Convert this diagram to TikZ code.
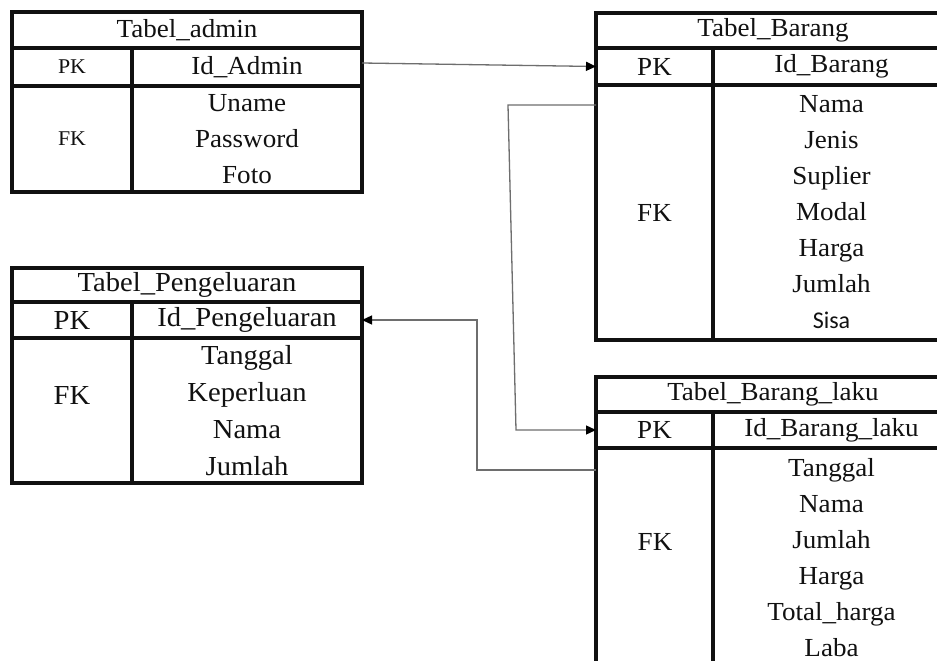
\documentclass[tikz,border=0pt]{standalone}
\usepackage{fontspec}
\setmainfont{Liberation Serif}[FakeStretch=1.04]
\newfontfamily\calfont{Carlito}
\usepackage{tikz}
\usetikzlibrary{arrows.meta,positioning}
\definecolor{ink}{HTML}{111111}
\definecolor{wire}{HTML}{6E6E6E}

\begin{document}
\begin{tikzpicture}[x=1pt,y=-1pt,
  cel/.style={draw=ink,line width=3.5pt,outer sep=0pt,inner sep=0pt,anchor=north west,align=center,text=ink,font=\fontsize{26}{36}\selectfont},
  small/.style={font=\fontsize{21}{36}\selectfont},
  big/.style={font=\fontsize{27.5}{37}\selectfont},
  txt/.style={text=ink,font=\fontsize{26}{36}\selectfont},
  rel/.style={draw=wire,line width=1.3pt,-{Triangle[length=10pt,width=9pt,color=black,fill=black]}}
]
  \fill[white] (0,0) rectangle (937,661);
  \useasboundingbox (0,0) rectangle (937,661);

  \node[cel,minimum width=350pt,minimum height=36pt]        (adm)    at (12,12)  {Tabel\_admin};
  \node[cel,small,minimum width=120pt,minimum height=38pt]  (adm-pk) at (12,48)  {PK};
  \node[cel,minimum width=230pt,minimum height=38pt]        (adm-id) at (132,48) {Id\_Admin};
  \node[cel,small,minimum width=120pt,minimum height=106pt] (adm-fk) at (12,86)  {FK};
  \node[cel,minimum width=230pt,minimum height=106pt]       (adm-f)  at (132,86) {Uname\\Password\\Foto};

  \node[cel,minimum width=354pt,minimum height=35pt]  (bar)    at (596,13) {Tabel\_Barang};
  \node[cel,minimum width=117pt,minimum height=37pt]  (bar-pk) at (596,48) {PK};
  \node[cel,minimum width=237pt,minimum height=37pt]  (bar-id) at (713,48) {Id\_Barang};
  \node[cel,minimum width=117pt,minimum height=255pt] (bar-fk) at (596,85) {FK};
  \node[cel,minimum width=237pt,minimum height=255pt] (bar-f)  at (713,85) {Nama\\Jenis\\Suplier\\Modal\\Harga\\Jumlah\\{\calfont\fontsize{24}{36}\selectfont Sisa}};

  \node[cel,big,minimum width=350pt,minimum height=34pt]  (peng)    at (12,268)  {Tabel\_Pengeluaran};
  \node[cel,big,minimum width=120pt,minimum height=36pt]  (peng-pk) at (12,302)  {PK};
  \node[cel,big,minimum width=230pt,minimum height=36pt]  (peng-id) at (132,302) {Id\_Pengeluaran};
  \node[cel,minimum width=120pt,minimum height=145pt]     (peng-fk) at (12,338)  {};
  \node[cel,big,minimum width=230pt,minimum height=145pt] (peng-f)  at (132,338) {Tanggal\\Keperluan\\Nama\\Jumlah};
  \node[txt,big] (peng-fkl) at (72,395) {FK};

  \node[cel,minimum width=354pt,minimum height=35pt]  (lak)    at (596,377) {Tabel\_Barang\_laku};
  \node[cel,minimum width=117pt,minimum height=36pt]  (lak-pk) at (596,412) {PK};
  \node[cel,minimum width=237pt,minimum height=36pt]  (lak-id) at (713,412) {Id\_Barang\_laku};
  \node[cel,minimum width=117pt,minimum height=220pt] (lak-fk) at (596,448) {};
  \node[cel,minimum width=237pt,minimum height=220pt] (lak-f)  at (713,448) {Tanggal\\Nama\\Jumlah\\Harga\\Total\_harga\\Laba};
  \node[txt] (lak-fkl) at (655,542) {FK};

  \coordinate (b1) at (508,105);
  \coordinate (b2) at (516,430);
  \coordinate (c1) at (477,470);
  \coordinate (c2) at (477,320);

  \draw[rel] ([yshift=4pt]adm-id.east) -- (bar-pk.west);
  \draw[rel] ([yshift=-20pt]bar-fk.north west) -- (b1) -- (b2) -- (lak-pk.west);
  \draw[rel] ([yshift=-22pt]lak-fk.north west) -- (c1) -- (c2) -- (peng-id.east);
\end{tikzpicture}
\end{document}
